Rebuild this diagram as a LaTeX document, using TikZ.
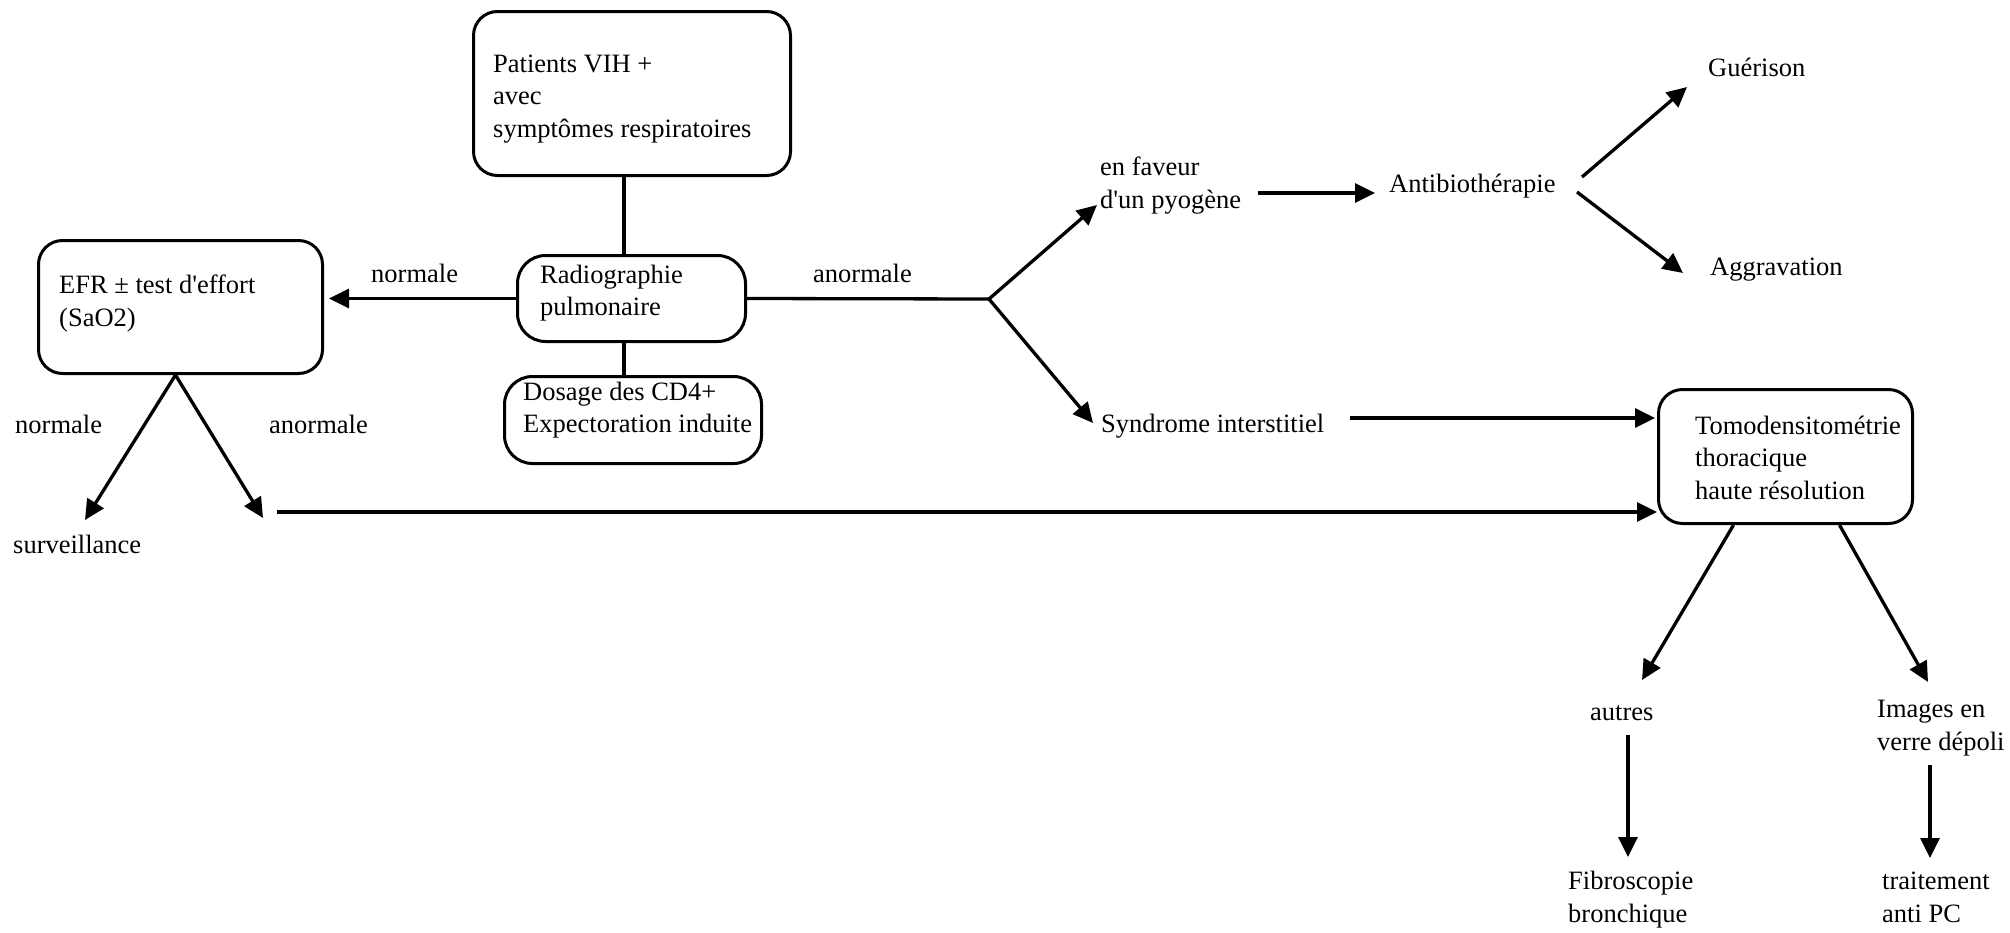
\documentclass[tikz,border=0pt]{standalone}
\usepackage{fontspec}
\setmainfont{Liberation Serif}[Ligatures=TeXOff]
\usetikzlibrary{arrows.meta,calc}
\begin{document}
\begin{tikzpicture}[x=1pt,y=-1pt,
  font=\fontsize{26.5}{32.5}\selectfont,
  box/.style={draw, line width=3pt, inner sep=0pt},
  txt/.style={anchor=base west, inner sep=0pt, align=left},
  ln/.style={line width=3.3pt},
  arr/.style={line width=3.3pt, -{Triangle[length=20pt,width=19pt]}}]
\fill[white] (0,0) rectangle (2010,932);
\useasboundingbox (0,0) rectangle (2010,932);

% boxes
\node[box, rounded corners=24pt, minimum width=317pt, minimum height=164pt] (patients) at (632,93.5) {};
\node[box, rounded corners=28pt, minimum width=228pt, minimum height=86pt] (radio) at (631.5,298.5) {};
\node[box, rounded corners=28pt, minimum width=257pt, minimum height=87pt] (dosage) at (633,420) {};
\node[box, rounded corners=24pt, minimum width=284pt, minimum height=133pt] (efr) at (180.5,307) {};
\node[box, rounded corners=24pt, minimum width=254pt, minimum height=134pt] (tomo) at (1785.5,456.5) {};

% texts (anchor = baseline of the last line)
\node[txt] (patientsT) at (493,137) {Patients VIH +\\avec\\symptômes respiratoires};
\node[txt] (radioT) at (540,315.5) {Radiographie\\pulmonaire};
\node[txt] (dosageT) at (523,432.5) {Dosage des CD4+\\Expectoration induite};
\node[txt] (efrT) at (59,326) {EFR ± test d'effort\\(SaO2)};
\node[txt] (tomoT) at (1695,499) {Tomodensitométrie\\thoracique\\haute résolution};
\node[txt] (lnorm1) at (371,282) {normale};
\node[txt] (lanorm1) at (813,282) {anormale};
\node[txt] (lnorm2) at (15,433) {normale};
\node[txt] (lanorm2) at (269,433) {anormale};
\node[txt] (surv) at (13,553) {surveillance};
\node[txt] (pyog) at (1100,208) {en faveur\\d'un pyogène};
\node[txt] (synd) at (1101,432) {Syndrome interstitiel};
\node[txt] (antib) at (1389,192) {Antibiothérapie};
\node[txt] (guer) at (1708,76) {Guérison};
\node[txt] (aggr) at (1710,275) {Aggravation};
\node[txt] (autres) at (1590,720) {autres};
\node[txt] (images) at (1877,750) {Images en\\verre dépoli};
\node[txt] (fibro) at (1568,922) {Fibroscopie\\bronchique};
\node[txt] (trait) at (1882,922) {traitement\\anti PC};

% free coordinates
\coordinate (J) at (989,299);
\coordinate (effEnd) at (263,518);
\coordinate (longStart) at (277,512);

% connectors
\draw[ln] ([xshift=-8pt]patients.south) -- ([xshift=-8pt]patients.south |- radio.north);
\draw[ln] ([xshift=-7.5pt]radio.south) -- ([xshift=-7.5pt]radio.south |- dosage.north);
\draw[arr, shorten >=5pt] (radio.west) -- (radio.west -| efr.east);
\draw[ln] (radio.east) -- (J);
\draw[arr] (J) -- ($(pyog.base west)+(-3,-3)$);
\draw[arr] (J) -- ($(synd.base west)+(-8,-9)$);
\draw[arr] ($(pyog.base west)+(158,-15)$) -- ($(antib.base west)+(-14,1)$);
\draw[arr] ($(antib.base west)+(193,-15)$) -- ($(guer.base west)+(-21,11)$);
\draw[arr] ($(antib.base west)+(188,0)$) -- ($(aggr.base west)+(-27,-2)$);
\draw[arr] ($(synd.base west)+(249,-14)$) -- ($(tomo.west)+(-2,-38.5)$);
\draw[arr] ([xshift=-5pt]efr.south) -- ($(surv.base west)+(72,-33)$);
\draw[arr] ([xshift=-5pt]efr.south) -- (effEnd);
\draw[arr] (longStart) -- ($(tomo.west)+(0,55.5)$);
\draw[arr] ([xshift=-52pt]tomo.south) -- ($(autres.base west)+(52,-40)$);
\draw[arr] ([xshift=54pt]tomo.south) -- ($(images.base west)+(51,-68)$);
\draw[arr] ($(autres.base west)+(38,15)$) -- ($(fibro.base west)+(60,-65)$);
\draw[arr] ($(images.base west)+(53,15)$) -- ($(trait.base west)+(48,-64)$);
\end{tikzpicture}
\end{document}
